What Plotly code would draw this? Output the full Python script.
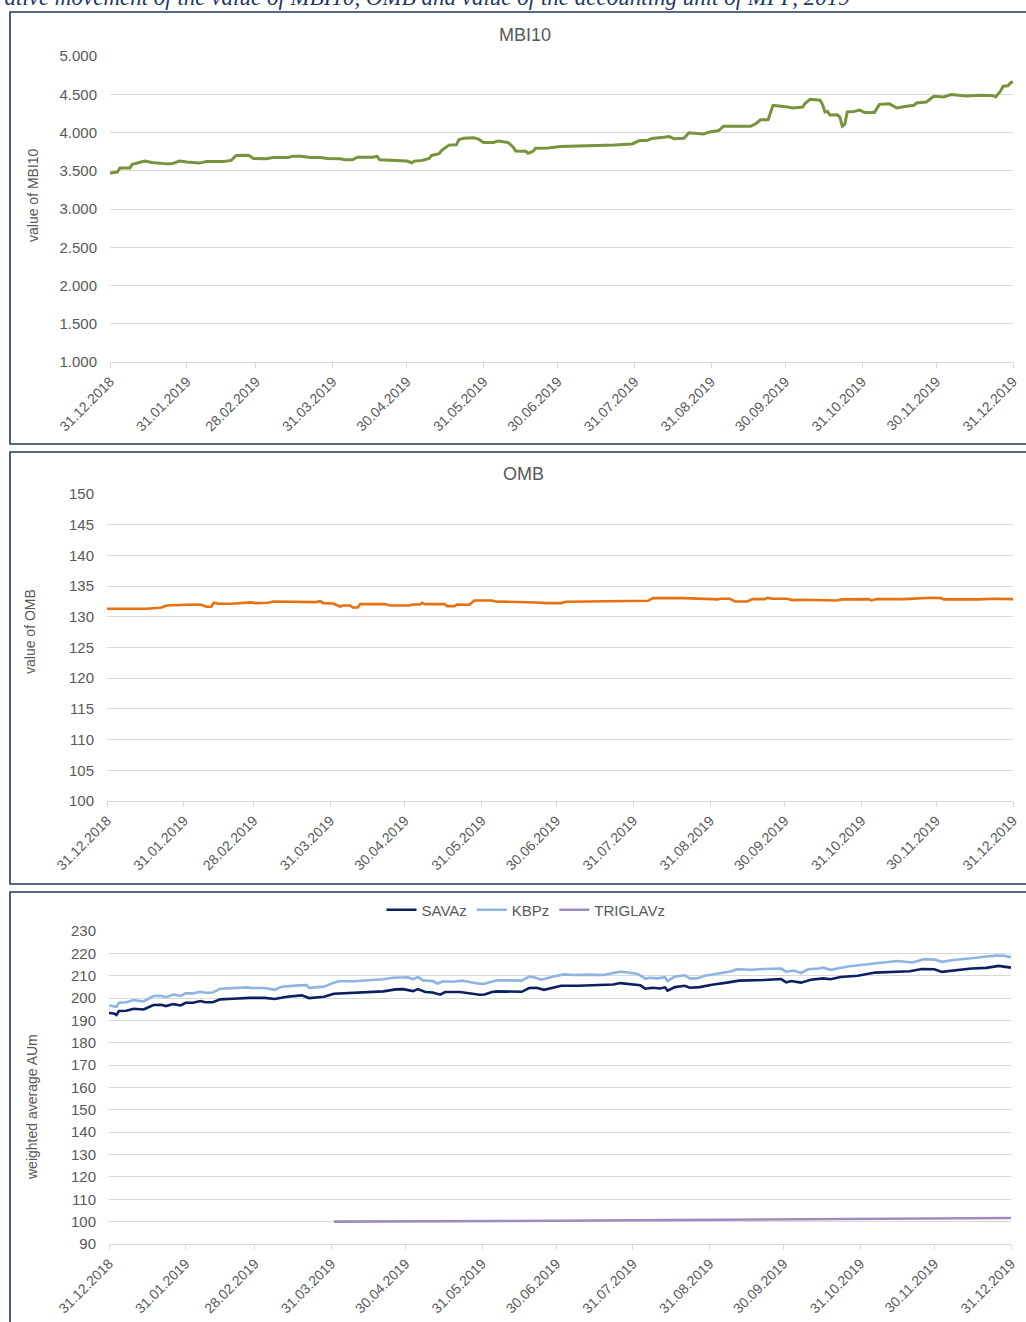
import plotly.graph_objects as go
import pandas as pd

# ---------------- data ----------------
tick_dates = ["2018-12-31", "2019-01-31", "2019-02-28", "2019-03-31", "2019-04-30", "2019-05-31",
              "2019-06-30", "2019-07-31", "2019-08-31", "2019-09-30", "2019-10-31", "2019-11-30",
              "2019-12-31"]
tick_labels = [pd.Timestamp(d).strftime("%d.%m.%Y") for d in tick_dates]

mbi_dates = ["2018-12-31", "2019-01-03", "2019-01-04", "2019-01-08", "2019-01-09", "2019-01-11", "2019-01-14",
             "2019-01-17", "2019-01-21", "2019-01-23", "2019-01-25", "2019-01-28", "2019-01-31", "2019-02-05",
             "2019-02-08", "2019-02-15", "2019-02-18", "2019-02-20", "2019-02-25", "2019-02-27", "2019-03-04",
             "2019-03-07", "2019-03-13", "2019-03-15", "2019-03-18", "2019-03-22", "2019-03-26", "2019-03-29",
             "2019-04-03", "2019-04-05", "2019-04-08", "2019-04-10", "2019-04-16", "2019-04-18", "2019-04-19",
             "2019-04-26", "2019-04-30", "2019-05-02", "2019-05-03", "2019-05-06", "2019-05-09", "2019-05-10",
             "2019-05-13", "2019-05-14", "2019-05-17", "2019-05-20", "2019-05-21", "2019-05-23", "2019-05-27",
             "2019-05-29", "2019-05-31", "2019-06-04", "2019-06-06", "2019-06-10", "2019-06-12", "2019-06-13",
             "2019-06-17", "2019-06-18", "2019-06-20", "2019-06-21", "2019-06-26", "2019-07-01", "2019-07-11",
             "2019-07-18", "2019-07-23", "2019-07-30", "2019-08-02", "2019-08-05", "2019-08-07", "2019-08-12",
             "2019-08-14", "2019-08-16", "2019-08-20", "2019-08-22", "2019-08-28", "2019-08-30", "2019-09-03",
             "2019-09-05", "2019-09-13", "2019-09-16", "2019-09-18", "2019-09-20", "2019-09-23", "2019-09-24",
             "2019-09-25", "2019-09-30", "2019-10-03", "2019-10-07", "2019-10-08", "2019-10-10", "2019-10-14",
             "2019-10-15", "2019-10-16", "2019-10-17", "2019-10-18", "2019-10-21", "2019-10-22", "2019-10-23",
             "2019-10-24", "2019-10-25", "2019-10-28", "2019-10-30", "2019-11-01", "2019-11-05", "2019-11-07",
             "2019-11-11", "2019-11-14", "2019-11-18", "2019-11-21", "2019-11-22", "2019-11-26", "2019-11-29",
             "2019-12-03", "2019-12-06", "2019-12-09", "2019-12-12", "2019-12-18", "2019-12-23", "2019-12-24",
             "2019-12-26", "2019-12-27", "2019-12-29", "2019-12-30", "2019-12-31"]
mbi_values = [3470, 3483, 3535, 3535, 3583, 3600, 3626, 3609, 3591, 3590, 3590, 3626, 3613, 3600,
              3622, 3622, 3635, 3700, 3704, 3661, 3657, 3674, 3674, 3691, 3691, 3674, 3674, 3661,
              3657, 3643, 3643, 3678, 3678, 3687, 3643, 3635, 3626, 3604, 3626, 3635, 3661, 3700,
              3722, 3765, 3835, 3839, 3905, 3926, 3930, 3913, 3870, 3870, 3890, 3868, 3807, 3759,
              3754, 3728, 3754, 3794, 3798, 3816, 3825, 3825, 3838, 3851, 3895, 3895, 3921, 3939,
              3947, 3917, 3925, 3996, 3982, 4004, 4026, 4083, 4088, 4083, 4114, 4167, 4167, 4263,
              4355, 4338, 4320, 4333, 4382, 4434, 4421, 4368, 4268, 4276, 4228, 4232, 4202, 4083,
              4110, 4268, 4276, 4294, 4263, 4263, 4368, 4377, 4320, 4342, 4355, 4386, 4399, 4473,
              4465, 4496, 4491, 4478, 4487, 4482, 4465, 4544, 4605, 4610, 4649, 4662]

omb_dates = ["2018-12-31", "2019-01-16", "2019-01-21", "2019-01-22", "2019-01-24", "2019-01-28", "2019-02-01",
             "2019-02-06", "2019-02-07", "2019-02-09", "2019-02-11", "2019-02-12", "2019-02-14", "2019-02-19",
             "2019-02-25", "2019-02-27", "2019-03-01", "2019-03-06", "2019-03-08", "2019-03-18", "2019-03-22",
             "2019-03-25", "2019-03-27", "2019-03-28", "2019-04-01", "2019-04-03", "2019-04-04", "2019-04-05",
             "2019-04-08", "2019-04-09", "2019-04-11", "2019-04-12", "2019-04-22", "2019-04-24", "2019-05-02",
             "2019-05-03", "2019-05-06", "2019-05-07", "2019-05-08", "2019-05-16", "2019-05-17", "2019-05-20",
             "2019-05-21", "2019-05-26", "2019-05-28", "2019-06-04", "2019-06-06", "2019-06-07", "2019-06-19",
             "2019-06-22", "2019-06-26", "2019-07-02", "2019-07-04", "2019-07-17", "2019-07-29", "2019-08-06",
             "2019-08-08", "2019-08-20", "2019-09-01", "2019-09-03", "2019-09-04", "2019-09-08", "2019-09-10",
             "2019-09-15", "2019-09-17", "2019-09-22", "2019-09-23", "2019-09-25", "2019-10-01", "2019-10-03",
             "2019-10-07", "2019-10-21", "2019-10-23", "2019-11-03", "2019-11-04", "2019-11-06", "2019-11-17",
             "2019-11-20", "2019-11-28", "2019-12-02", "2019-12-03", "2019-12-17", "2019-12-23", "2019-12-31"]
omb_values = [131.30, 131.30, 131.47, 131.52, 131.85, 131.85, 131.96, 132.01, 131.96, 131.63, 131.63, 132.28,
              132.12, 132.12, 132.23, 132.34, 132.23, 132.28, 132.50, 132.50, 132.39, 132.39, 132.55, 132.23,
              132.17, 131.79, 131.68, 131.85, 131.85, 131.52, 131.52, 132.07, 132.07, 131.85, 131.85, 132.01,
              132.01, 132.28, 132.07, 132.07, 131.74, 131.74, 132.01, 131.96, 132.66, 132.66, 132.45, 132.50,
              132.45, 132.34, 132.23, 132.23, 132.45, 132.50, 132.61, 132.61, 133.04, 133.04, 132.88, 132.83,
              132.93, 132.93, 132.50, 132.50, 132.88, 132.88, 133.10, 132.93, 132.93, 132.72, 132.77, 132.66,
              132.83, 132.88, 132.66, 132.88, 132.88, 132.93, 133.10, 133.04, 132.83, 132.83, 132.93, 132.88]

kbp_dates = ["2018-12-31", "2019-01-03", "2019-01-04", "2019-01-07", "2019-01-10", "2019-01-12", "2019-01-14",
             "2019-01-18", "2019-01-21", "2019-01-23", "2019-01-26", "2019-01-29", "2019-01-31", "2019-02-03",
             "2019-02-06", "2019-02-08", "2019-02-11", "2019-02-14", "2019-02-19", "2019-02-25", "2019-02-27",
             "2019-03-04", "2019-03-08", "2019-03-11", "2019-03-18", "2019-03-21", "2019-03-22", "2019-03-28",
             "2019-04-01", "2019-04-03", "2019-04-09", "2019-04-14", "2019-04-21", "2019-04-25", "2019-05-01",
             "2019-05-03", "2019-05-05", "2019-05-07", "2019-05-11", "2019-05-13", "2019-05-15", "2019-05-19",
             "2019-05-23", "2019-05-27", "2019-05-30", "2019-06-01", "2019-06-04", "2019-06-06", "2019-06-16",
             "2019-06-19", "2019-06-21", "2019-06-24", "2019-06-28", "2019-07-03", "2019-07-07", "2019-07-14",
             "2019-07-19", "2019-07-23", "2019-07-26", "2019-07-29", "2019-08-02", "2019-08-05", "2019-08-07",
             "2019-08-10", "2019-08-13", "2019-08-14", "2019-08-17", "2019-08-21", "2019-08-23", "2019-08-26",
             "2019-08-29", "2019-09-03", "2019-09-09", "2019-09-11", "2019-09-17", "2019-09-22", "2019-09-29",
             "2019-10-01", "2019-10-04", "2019-10-07", "2019-10-10", "2019-10-14", "2019-10-16", "2019-10-19",
             "2019-10-22", "2019-10-26", "2019-11-02", "2019-11-09", "2019-11-15", "2019-11-21", "2019-11-26",
             "2019-11-30", "2019-12-03", "2019-12-07", "2019-12-11", "2019-12-15", "2019-12-21", "2019-12-25",
             "2019-12-28", "2019-12-31"]
kbp_values = [196.7, 196.1, 197.9, 198.1, 199.1, 198.7, 198.5, 200.9, 201.0, 200.4, 201.6, 201.0, 202.1, 202.1,
              202.8, 202.4, 202.5, 204.2, 204.5, 204.8, 204.5, 204.5, 203.7, 205.1, 205.7, 205.8, 204.6, 205.1,
              206.9, 207.5, 207.5, 207.9, 208.4, 209.1, 209.3, 208.4, 209.4, 207.9, 207.6, 206.4, 207.5, 207.3,
              207.8, 207.0, 206.4, 206.4, 207.5, 208.0, 207.8, 209.6, 209.3, 208.2, 209.4, 210.6, 210.3, 210.5,
              210.3, 211.2, 211.8, 211.4, 210.8, 208.7, 209.1, 208.8, 209.3, 207.6, 209.6, 210.2, 208.8, 208.8,
              210.0, 210.9, 212.0, 212.9, 212.7, 213.0, 213.2, 211.8, 212.3, 211.2, 212.9, 213.2, 213.6, 212.6,
              213.2, 214.1, 215.0, 215.9, 216.6, 215.9, 217.4, 217.2, 216.2, 216.9, 217.5, 217.8, 218.6, 219.0,
              218.9, 218.3]

sava_dates = ["2018-12-31", "2019-01-02", "2019-01-03", "2019-01-04", "2019-01-07", "2019-01-10", "2019-01-14",
              "2019-01-18", "2019-01-21", "2019-01-23", "2019-01-26", "2019-01-29", "2019-01-31", "2019-02-03",
              "2019-02-06", "2019-02-08", "2019-02-11", "2019-02-14", "2019-02-19", "2019-02-26", "2019-03-04",
              "2019-03-08", "2019-03-13", "2019-03-19", "2019-03-22", "2019-03-28", "2019-04-01", "2019-04-07",
              "2019-04-14", "2019-04-21", "2019-04-26", "2019-04-29", "2019-05-03", "2019-05-05", "2019-05-08",
              "2019-05-11", "2019-05-14", "2019-05-16", "2019-05-22", "2019-05-27", "2019-05-30", "2019-06-01",
              "2019-06-04", "2019-06-06", "2019-06-16", "2019-06-19", "2019-06-22", "2019-06-25", "2019-07-02",
              "2019-07-09", "2019-07-17", "2019-07-23", "2019-07-26", "2019-07-30", "2019-08-03", "2019-08-05",
              "2019-08-08", "2019-08-11", "2019-08-13", "2019-08-14", "2019-08-17", "2019-08-21", "2019-08-23",
              "2019-08-27", "2019-09-01", "2019-09-07", "2019-09-12", "2019-09-22", "2019-09-29", "2019-10-01",
              "2019-10-03", "2019-10-07", "2019-10-11", "2019-10-16", "2019-10-19", "2019-10-23", "2019-10-30",
              "2019-11-06", "2019-11-13", "2019-11-20", "2019-11-25", "2019-11-30", "2019-12-03", "2019-12-09",
              "2019-12-15", "2019-12-21", "2019-12-26", "2019-12-31"]
sava_values = [193.3, 193.1, 192.4, 194.2, 194.3, 195.2, 194.9, 196.9, 197.0, 196.4, 197.3, 196.7, 197.9, 197.9,
               198.7, 198.1, 198.1, 199.4, 199.7, 200.1, 200.1, 199.6, 200.6, 201.2, 200.0, 200.6, 201.9, 202.2,
               202.5, 203.0, 203.9, 204.0, 203.1, 204.0, 202.7, 202.5, 201.5, 202.7, 202.7, 202.1, 201.5, 201.6,
               202.7, 203.0, 202.8, 204.5, 204.6, 203.7, 205.5, 205.5, 205.7, 206.1, 206.7, 206.1, 205.7, 204.2,
               204.6, 204.3, 204.8, 203.3, 204.9, 205.5, 204.6, 204.9, 206.0, 206.9, 207.8, 208.1, 208.5, 207.0,
               207.6, 206.9, 208.2, 208.8, 208.4, 209.4, 210.0, 211.4, 211.7, 212.0, 213.0, 212.9, 211.7, 212.6,
               213.2, 213.5, 214.4, 213.6]

triglav_dates = ["2019-04-01", "2019-05-31", "2019-06-30", "2019-07-31", "2019-08-31", "2019-09-30",
                 "2019-10-31", "2019-11-30", "2019-12-31"]
triglav_values = [100.0, 100.1, 100.4, 100.6, 100.8, 100.9, 101.2, 101.4, 101.6]

# ---------------- styling ----------------
W, H = 1026, 1322
FONT = "Liberation Sans, Arial, sans-serif"
GREY = "#595959"
GRID = "#d9d9d9"
NAVY = "#1F3864"


def px_x(p):
    return p / W


def px_y(p):
    return 1 - p / H


fig = go.Figure()

fig.add_trace(go.Scatter(x=mbi_dates, y=mbi_values, mode="lines", name="MBI10",
                         line=dict(color="#77933C", width=3), xaxis="x", yaxis="y", showlegend=False))
fig.add_trace(go.Scatter(x=omb_dates, y=omb_values, mode="lines", name="OMB",
                         line=dict(color="#E8700E", width=2.6), xaxis="x2", yaxis="y2", showlegend=False))
fig.add_trace(go.Scatter(x=sava_dates, y=sava_values, mode="lines", name="SAVAz",
                         line=dict(color="#0A2060", width=2.6), xaxis="x3", yaxis="y3"))
fig.add_trace(go.Scatter(x=kbp_dates, y=kbp_values, mode="lines", name="KBPz",
                         line=dict(color="#8DB4E2", width=2.6), xaxis="x3", yaxis="y3"))
fig.add_trace(go.Scatter(x=triglav_dates, y=triglav_values, mode="lines", name="TRIGLAVz",
                         line=dict(color="#9E8BC2", width=2.6), xaxis="x3", yaxis="y3"))

xcommon = dict(type="date", range=["2018-12-31", "2019-12-31"], tickvals=tick_dates, ticktext=tick_labels,
               tickangle=-45, showgrid=False, showline=True, linecolor=GRID, linewidth=1,
               ticks="outside", ticklen=5, tickcolor=GRID, tickfont=dict(family=FONT, size=14, color=GREY),
               zeroline=False, fixedrange=True, automargin=False)
ycommon = dict(showgrid=True, gridcolor=GRID, gridwidth=1, zeroline=False, showline=False, ticks="",
               tickfont=dict(family=FONT, size=15, color=GREY), ticklabelstandoff=12, automargin=False,
               fixedrange=True)

layout = dict(
    width=W, height=H, margin=dict(l=0, r=0, t=0, b=0, autoexpand=False),
    paper_bgcolor="white", plot_bgcolor="white", separators=",.",
    font=dict(family=FONT, color=GREY),
    xaxis=dict(xcommon, domain=[px_x(110), px_x(1013)], anchor="y"),
    yaxis=dict(ycommon, domain=[px_y(362), px_y(56)], range=[1000, 5000], dtick=500,
               tickformat=",.0f", anchor="x"),
    xaxis2=dict(xcommon, domain=[px_x(107), px_x(1013)], anchor="y2"),
    yaxis2=dict(ycommon, domain=[px_y(801), px_y(494)], range=[100, 150], dtick=5, anchor="x2"),
    xaxis3=dict(xcommon, domain=[px_x(109), px_x(1011)], anchor="y3"),
    yaxis3=dict(ycommon, domain=[px_y(1244), px_y(931)], range=[90, 230], dtick=10, anchor="x3"),
    legend=dict(orientation="h", x=px_x(526), xanchor="center", y=px_y(910), yanchor="middle",
                font=dict(family=FONT, size=15, color=GREY), bgcolor="rgba(0,0,0,0)",
                itemwidth=30, tracegroupgap=0),
    showlegend=True,
)
fig.update_layout(**layout)

# panel frames
for (top, bottom) in [(12, 444), (452, 884), (892, 1340)]:
    fig.add_shape(type="rect", xref="paper", yref="paper", x0=px_x(10), x1=px_x(1040),
                  y0=px_y(bottom), y1=px_y(top), line=dict(color=NAVY, width=1.6),
                  fillcolor="rgba(0,0,0,0)", layer="below")

annotations = [
    dict(text="Comparative movement of the value of MBI10, OMB and value of the accounting unit of MPF, 2019",
         x=px_x(852), y=px_y(-2), xanchor="right", yanchor="middle",
         font=dict(family="Liberation Serif, serif", size=23, color=NAVY, style="italic"), showarrow=False),
    dict(text="MBI10", x=px_x(525), y=px_y(35), xanchor="center", yanchor="middle",
         font=dict(family=FONT, size=18, color=GREY), showarrow=False),
    dict(text="OMB", x=px_x(523), y=px_y(474), xanchor="center", yanchor="middle",
         font=dict(family=FONT, size=18, color=GREY), showarrow=False),
    dict(text="value of MBI10", x=px_x(33), y=px_y(195), textangle=-90, xanchor="center", yanchor="middle",
         font=dict(family=FONT, size=14, color=GREY), showarrow=False),
    dict(text="value of OMB", x=px_x(30), y=px_y(632), textangle=-90, xanchor="center", yanchor="middle",
         font=dict(family=FONT, size=14, color=GREY), showarrow=False),
    dict(text="weighted average AUm", x=px_x(32), y=px_y(1107), textangle=-90, xanchor="center",
         yanchor="middle", font=dict(family=FONT, size=14, color=GREY), showarrow=False),
]
for a in annotations:
    a.update(xref="paper", yref="paper")
fig.update_layout(annotations=annotations)

fig.write_html("out.html", config={"displayModeBar": False},
               post_script="document.body.style.margin='0px';")
